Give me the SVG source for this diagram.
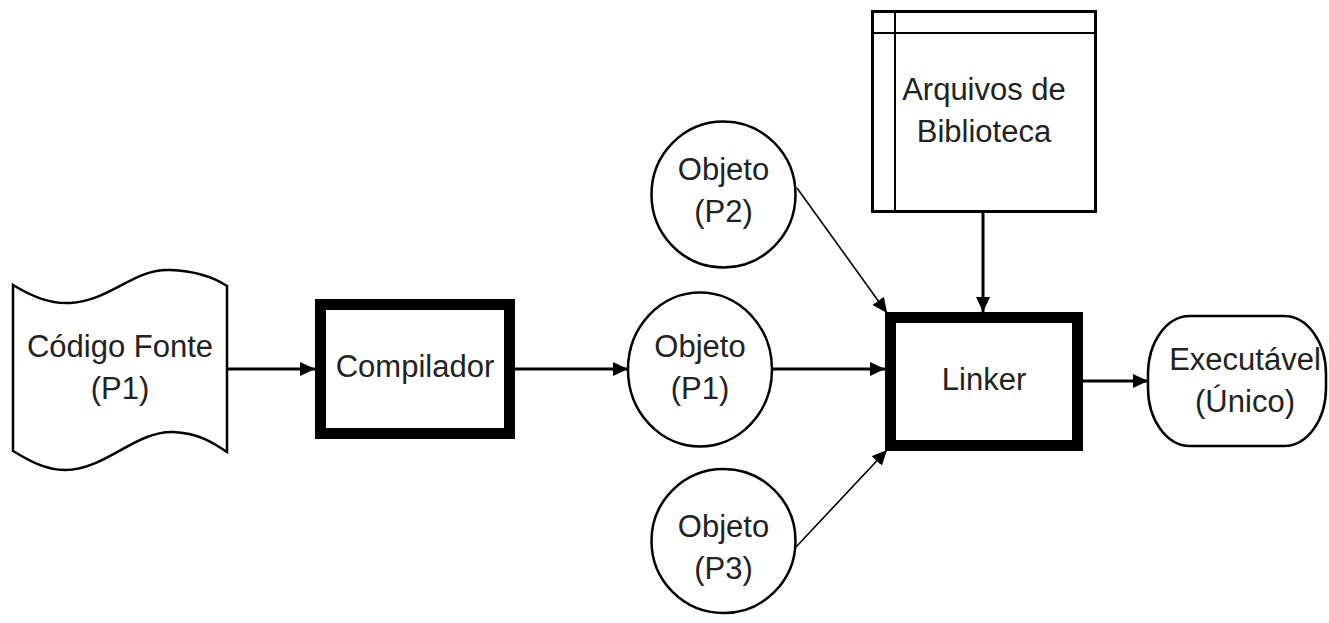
<svg xmlns="http://www.w3.org/2000/svg" width="1329" height="623" viewBox="0 0 1329 623">
<defs>
<marker id="arr" markerUnits="userSpaceOnUse" markerWidth="15" markerHeight="14" refX="15" refY="7" orient="auto">
<path d="M0,0 L15,7 L0,14 Z" fill="#000"/>
</marker>
</defs>
<style>
.lbl{font-family:"Liberation Sans",Arial,sans-serif;font-size:31px;fill:#222;text-anchor:middle}
.thin{fill:#fff;stroke:#000;stroke-width:2.5}
.thick{fill:#fff;stroke:#000;stroke-width:11}
.con{fill:none;stroke:#000;stroke-width:3}
.con2{fill:none;stroke:#000;stroke-width:1.6}
</style>
<rect width="1329" height="623" fill="#fff"/>
<g id="connectors">
<line class="con" x1="227" y1="369" x2="315" y2="369" marker-end="url(#arr)"/>
<line class="con" x1="515" y1="369" x2="628" y2="369" marker-end="url(#arr)"/>
<line class="con" x1="772" y1="369" x2="885" y2="369" marker-end="url(#arr)"/>
<line class="con" x1="1083" y1="381" x2="1148" y2="381" marker-end="url(#arr)"/>
<line class="con" x1="983" y1="213" x2="983" y2="312" marker-end="url(#arr)"/>
<line class="con2" x1="797" y1="188" x2="887" y2="313" marker-end="url(#arr)"/>
<line class="con2" x1="796" y1="547" x2="887" y2="450" marker-end="url(#arr)"/>
</g>
<g id="codigo-fonte">
<path class="thin" d="M13,285 C33,297 50,304 70,303 C110,301 135,268 170,270 C195,271 215,278 227,286 L227,452 C215,444 200,433 173,432 C135,431 105,470 65,470 C45,470 28,460 13,451 Z"/>
<text class="lbl" x="120" y="357">Código Fonte</text>
<text class="lbl" x="120" y="399">(P1)</text>
</g>
<g id="compilador">
<rect class="thick" x="320.5" y="304.5" width="189" height="129"/>
<text class="lbl" x="415" y="377">Compilador</text>
</g>
<g id="objeto-p1">
<ellipse class="thin" cx="700" cy="369.5" rx="72" ry="77"/>
<text class="lbl" x="700" y="357">Objeto</text>
<text class="lbl" x="700" y="399">(P1)</text>
</g>
<g id="objeto-p2">
<ellipse class="thin" cx="723.5" cy="194.5" rx="72" ry="73"/>
<text class="lbl" x="723.5" y="180">Objeto</text>
<text class="lbl" x="723.5" y="222">(P2)</text>
</g>
<g id="objeto-p3">
<ellipse class="thin" cx="723.5" cy="541" rx="72" ry="72"/>
<text class="lbl" x="723.5" y="537">Objeto</text>
<text class="lbl" x="723.5" y="579">(P3)</text>
</g>
<g id="arquivos-biblioteca">
<rect x="872.5" y="11.5" width="223" height="200" fill="#fff" stroke="#000" stroke-width="3"/>
<line x1="895" y1="11" x2="895" y2="212" stroke="#000" stroke-width="2"/>
<line x1="872" y1="33" x2="1096" y2="33" stroke="#000" stroke-width="2"/>
<text class="lbl" x="984" y="100">Arquivos de</text>
<text class="lbl" x="984" y="142">Biblioteca</text>
</g>
<g id="linker">
<rect class="thick" x="890.5" y="317.5" width="187" height="128"/>
<text class="lbl" x="984" y="390">Linker</text>
</g>
<g id="executavel">
<rect class="thin" x="1148" y="316" width="178" height="130" rx="42" ry="58"/>
<text class="lbl" x="1245" y="370">Executável</text>
<text class="lbl" x="1245" y="412">(Único)</text>
</g>
</svg>
